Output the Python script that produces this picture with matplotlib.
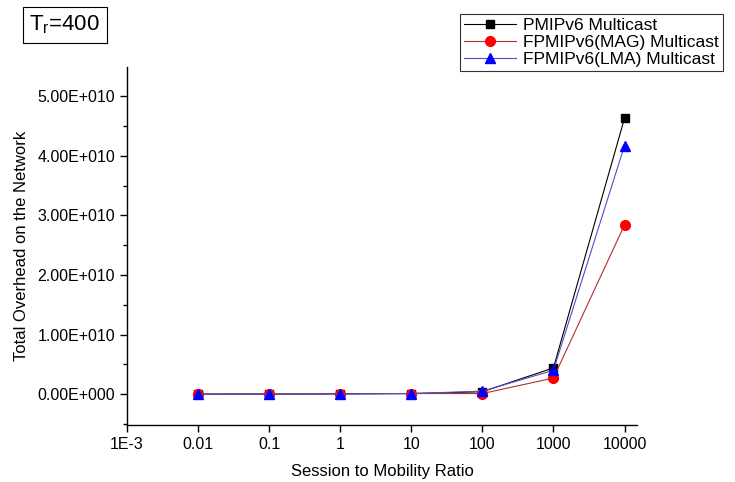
import matplotlib
matplotlib.use("Agg")
import matplotlib.pyplot as plt
from matplotlib.ticker import FixedLocator, MultipleLocator, FuncFormatter

plt.rcParams['font.family'] = ['Liberation Sans', 'DejaVu Sans']

# session to mobility ratio
smr = [0.01, 0.1, 1, 10, 100, 1000, 10000]

# total overhead on the network
pmipv6 = [1.0e6, 1.0e7, 5.0e7, 1.0e8, 4.0e8, 4.4e9, 4.63e10]
fpmip_mag = [1.0e6, 1.0e7, 5.0e7, 1.0e8, 1.0e8, 2.7e9, 2.84e10]
fpmip_lma = [1.0e6, 1.0e7, 5.0e7, 1.0e8, 5.0e8, 4.0e9, 4.17e10]

xticks = [1e-3, 0.01, 0.1, 1, 10, 100, 1000, 10000]
xtick_labels = ["1E-3", "0.01", "0.1", "1", "10", "100", "1000", "10000"]


def sci_fmt(v, pos):
    if v == 0:
        return "0.00E+000"
    s = f"{v:.2E}"
    mant, exp = s.split("E")
    sign = exp[0]
    return f"{mant}E{sign}{int(exp[1:]):03d}"


fig = plt.figure(figsize=(7.35, 4.82), dpi=100)
ax = fig.add_axes([0.1728, 0.118, 0.6939, 0.743])

ax.plot(smr, pmipv6, color="black", lw=0.8, marker="s", ms=6,
        mfc="black", mec="black", label="PMIPv6 Multicast", zorder=3)
ax.plot(smr, fpmip_mag, color="#b03030", lw=0.8, marker="o", ms=7,
        mfc="red", mec="red", label="FPMIPv6(MAG) Multicast", zorder=3)
ax.plot(smr, fpmip_lma, color="#5050c0", lw=0.8, marker="^", ms=7,
        mfc="blue", mec="blue", label="FPMIPv6(LMA) Multicast", zorder=3)

ax.set_xscale("log")
ax.set_xlim(1e-3, 1.5e4)
ax.set_ylim(-5.2e9, 5.49e10)

ax.xaxis.set_major_locator(FixedLocator(xticks))
ax.set_xticklabels(xtick_labels)
ax.xaxis.set_minor_locator(FixedLocator([]))
ax.yaxis.set_major_locator(MultipleLocator(1e10))
ax.yaxis.set_minor_locator(MultipleLocator(5e9))
ax.yaxis.set_major_formatter(FuncFormatter(sci_fmt))

ax.spines["top"].set_visible(False)
ax.spines["right"].set_visible(False)
for sp in ("left", "bottom"):
    ax.spines[sp].set_linewidth(1.0)

ax.tick_params(axis="both", which="major", direction="out", length=5,
               width=1.0, labelsize=11.5)
ax.tick_params(axis="y", which="minor", direction="out", length=3, width=1.0)

ax.set_xlabel("Session to Mobility Ratio", fontsize=12, labelpad=9)
ax.set_ylabel("Total Overhead on the Network", fontsize=12, labelpad=6)

leg = ax.legend(loc="upper right", bbox_to_anchor=(0.996, 0.99),
                bbox_transform=fig.transFigure, fontsize=12.5,
                frameon=True, fancybox=False, edgecolor="black",
                borderpad=0.25, handlelength=3.0, labelspacing=0.1,
                handletextpad=0.4)
leg.get_frame().set_linewidth(0.8)

fig.text(0.088, 0.948, r"T$_\mathregular{r}$=400", fontsize=16,
         ha="center", va="center",
         bbox=dict(boxstyle="square,pad=0.3", fc="white", ec="black", lw=0.8))

fig.savefig("out.png", dpi=100)
